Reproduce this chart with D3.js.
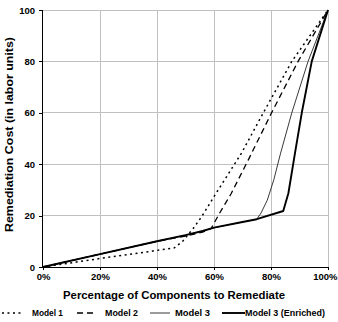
<!DOCTYPE html>
<html><head><meta charset="utf-8">
<script src="https://cdn.jsdelivr.net/npm/d3@7"></script>
<style>html,body{margin:0;padding:0;background:#fff;}</style>
</head><body>
<svg id="c" width="338" height="322"></svg>
<script>
const xTicks = [0, 20, 40, 60, 80, 100];
const yTicks = [0, 20, 40, 60, 80, 100];
const seriesNames = ["Model 1", "Model 2", "Model 3", "Model 3 (Enriched)"];
// [percentage of components, remediation cost]
const model1 = [[0,0],[20,3.3],[46,7.4],[49,10],[52.7,15],[55.7,19.6],[60,27.4],[69.7,44.4],[77.3,60],[87.3,80],[100,100]];
const model2 = [[0,0],[20,5],[40,10],[50,12],[56,13.6],[59,15],[62,21],[66,28.5],[72,41.6],[80.2,60],[89.5,80],[100,100]];
const model3 = [[0,0],[20,5],[40,10],[50,12.4],[56,14],[60,15.3],[70,17.5],[75,18.6],[76.5,21],[78.7,26],[81,34],[83.3,44],[87.3,60],[93,80],[100,100]];
const model3e = [[0,0],[20,5],[40,10],[50,12.4],[56,14],[60,15.3],[70,17.5],[75,18.6],[84.3,21.8],[86.1,28.7],[88.4,44.2],[90.8,60],[94.3,80],[100,100]];

const svg = d3.select("#c");
const L = 43, R = 328, T = 10, B = 267;
const x = d3.scaleLinear().domain([0,100]).range([L,R]);
const y = d3.scaleLinear().domain([0,100]).range([B,T]);
const font = "'Liberation Sans', Arial, sans-serif";

// gridlines
svg.append("g").selectAll("line.v").data(xTicks.filter(d=>d>0)).join("line")
  .attr("x1",d=>x(d)).attr("x2",d=>x(d)).attr("y1",T).attr("y2",B)
  .attr("stroke","#c0c0c0").attr("stroke-width",1).attr("shape-rendering","crispEdges");
svg.append("g").selectAll("line.h").data(yTicks.filter(d=>d>0)).join("line")
  .attr("x1",L).attr("x2",R).attr("y1",d=>y(d)).attr("y2",d=>y(d))
  .attr("stroke","#c0c0c0").attr("stroke-width",1).attr("shape-rendering","crispEdges");

// axes
const xAxis = d3.axisBottom(x).tickValues(xTicks).tickFormat(d=>d+"%").tickSize(3).tickPadding(3);
const yAxis = d3.axisLeft(y).tickValues(yTicks).tickSize(4).tickPadding(4);
const gx = svg.append("g").attr("transform",`translate(0,${B})`).call(xAxis);
const gy = svg.append("g").attr("transform",`translate(${L},0)`).call(yAxis);
[gx,gy].forEach(g=>{
  g.select(".domain").attr("stroke","#000").attr("shape-rendering","crispEdges");
  g.selectAll(".tick line").attr("stroke","#000").attr("shape-rendering","crispEdges");
  g.selectAll("text").attr("font-family",font).attr("font-weight","bold").attr("font-size","9.5px").attr("fill","#000");
});
// keep the last x label inside the picture
gx.selectAll(".tick text").filter(d=>d===100).attr("text-anchor","end").attr("dx","9");
gx.select(".domain").attr("d",`M${L},0.5H${R}`);
gy.select(".domain").attr("d",`M-0.5,${B}V${T}`);

// lines
const line = d3.line().x(d=>x(d[0])).y(d=>y(d[1]));
const styles = [
  {data:model1, w:1.5, dash:"2,3.5", color:"#000"},
  {data:model2, w:1.3, dash:"6,4", color:"#000"},
  {data:model3, w:0.9, dash:null, color:"#222"},
  {data:model3e, w:1.9, dash:null, color:"#000"}
];
styles.forEach(s=>{
  svg.append("path").datum(s.data).attr("d",line).attr("fill","none")
    .attr("stroke",s.color).attr("stroke-width",s.w).attr("stroke-dasharray",s.dash)
    .attr("stroke-linejoin","round");
});

// titles
svg.append("text").attr("x",174).attr("y",299).attr("text-anchor","middle")
  .attr("font-family",font).attr("font-weight","bold").attr("font-size","11px")
  .attr("textLength",222).attr("lengthAdjust","spacingAndGlyphs")
  .text("Percentage of Components to Remediate");
svg.append("text").attr("transform","translate(13,134.5) rotate(-90)").attr("text-anchor","middle")
  .attr("font-family",font).attr("font-weight","bold").attr("font-size","10.5px")
  .attr("textLength",195).attr("lengthAdjust","spacingAndGlyphs")
  .text("Remediation Cost (in labor units)");

// legend
const legX = [[2,22,32,31],[77,97,105,33],[150,170,175,35],[222,245,245,80]];
const lg = svg.append("g");
styles.forEach((s,i)=>{
  const ly = 313;
  lg.append("line").attr("x1",legX[i][0]).attr("x2",legX[i][1]).attr("y1",ly).attr("y2",ly)
    .attr("stroke",s.color).attr("stroke-width",s.w).attr("stroke-dasharray",s.dash);
  lg.append("text").attr("x",legX[i][2]).attr("y",ly+3.2).attr("font-family",font)
    .attr("font-weight","bold").attr("font-size","9px")
    .attr("textLength",legX[i][3]).attr("lengthAdjust","spacingAndGlyphs")
    .text(seriesNames[i]);
});
</script>
</body></html>
